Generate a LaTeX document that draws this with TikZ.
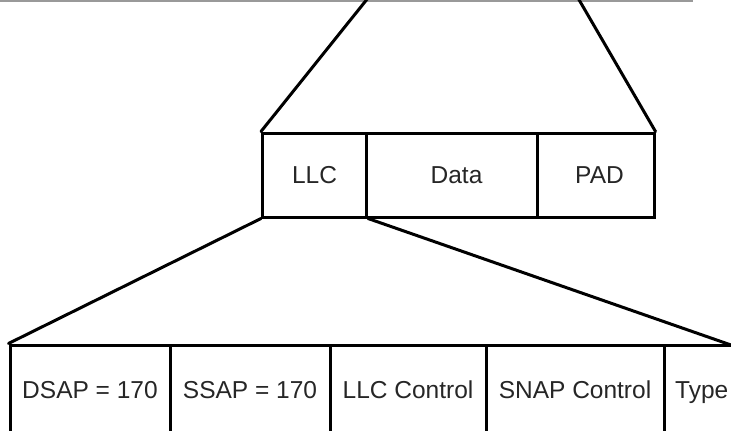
\documentclass[tikz,border=0pt]{standalone}
\usepackage{fontspec}
\setmainfont{Liberation Sans}
\tikzset{
  field/.style={draw=black, line width=3pt, inner sep=0pt, font=\fontsize{24.5}{28}\selectfont, text=black!85},
  midfield/.style={field, minimum height=84pt},
  lowfield/.style={field, minimum height=90pt},
  link/.style={line width=3pt, line cap=round, line join=round},
  txt/.style={inner sep=0pt, font=\fontsize{24.5}{28}\selectfont, text=black!85}
}
\begin{document}
\begin{tikzpicture}[x=1pt, y=-1pt]
\useasboundingbox (0,0) rectangle (731,431);
\clip (0,0) rectangle (731,431);
% top gray line
\draw[black!40, line width=2pt] (0,1) -- (693,1);
% top free ends
\coordinate (tl) at (368,-2);
\coordinate (tr) at (578,-2);
% middle frame
\node[midfield, minimum width=104pt] (llc) at (314.5,175) {LLC};
\node[midfield, minimum width=171pt] (data) at (451.5,175) {\hspace*{10pt}Data};
\node[midfield, minimum width=117pt] (pad) at (595.5,175) {\hspace*{8pt}PAD};
\draw[link] (tl) -- (llc.north west);
\draw[link] (tr) -- (pad.north east);
% bottom frame
\node[lowfield, minimum width=160pt] (dsap) at (90,390) {DSAP = 170};
\node[lowfield, minimum width=160pt] (ssap) at (250,390) {SSAP = 170};
\node[lowfield, minimum width=156pt] (llcc) at (408,390) {LLC Control};
\node[lowfield, minimum width=178pt] (snap) at (575,390) {SNAP Control};
\node[lowfield, minimum width=120pt] (type) at (724,390) {};
\node[txt, anchor=base west] (typetext) at (675,398.8) {Type};
\coordinate (br) at (731,345);
\draw[link] (llc.south west) -- (dsap.north west);
\draw[link] (llc.south east) -- (br);
\end{tikzpicture}
\end{document}
